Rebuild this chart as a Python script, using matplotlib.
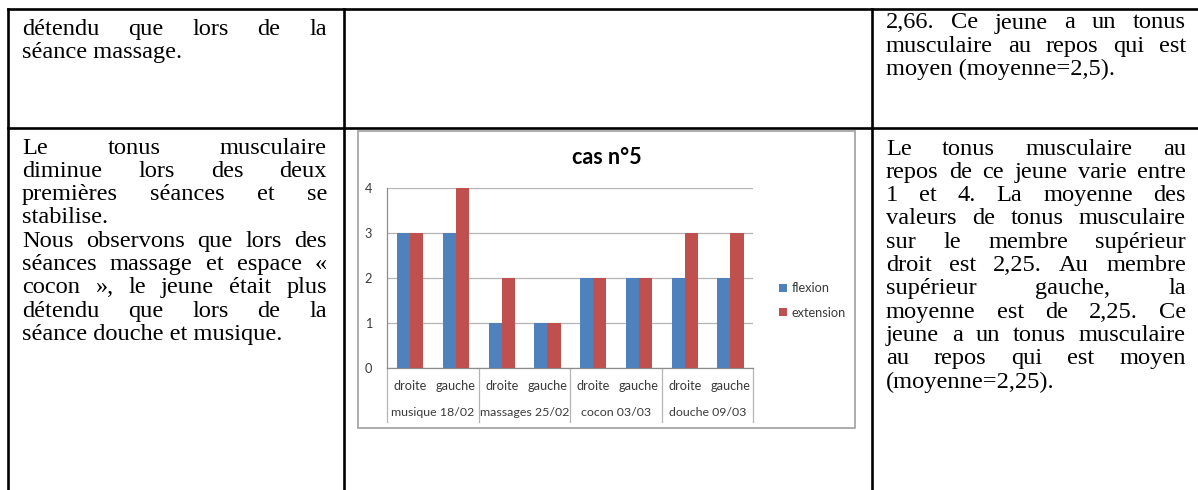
import matplotlib
matplotlib.use("Agg")
import matplotlib.pyplot as plt
import matplotlib.transforms as mtransforms
from matplotlib.font_manager import FontProperties
from matplotlib.patches import Rectangle
from matplotlib.lines import Line2D

# ---- chart data -------------------------------------------------------
sessions = ["musique 18/02", "massages 25/02", "cocon 03/03", "douche 09/03"]
sides = ["droite", "gauche"]
flexion = [3, 3, 1, 1, 2, 2, 2, 2]
extension = [3, 4, 2, 1, 2, 2, 3, 3]
series_names = ["flexion", "extension"]
y_ticks = [0, 1, 2, 3, 4]
chart_title = "cas n°5"

# ---- table text (one list per paragraph, one string per line) -----------
top_left_text = [["détendu que lors de la", "séance massage."]]
top_right_text = [["2,66. Ce jeune a un tonus", "musculaire au repos qui est",
                   "moyen (moyenne=2,5)."]]
mid_left_text = [["Le tonus musculaire", "diminue lors des deux",
                  "premières séances et se", "stabilise."],
                 ["Nous observons que lors des", "séances massage et espace «",
                  "cocon », le jeune était plus", "détendu que lors de la",
                  "séance douche et musique."]]
mid_right_text = [["Le tonus musculaire au", "repos de ce jeune varie entre",
                   "1 et 4. La moyenne des", "valeurs de tonus musculaire",
                   "sur le membre supérieur", "droit est 2,25. Au membre",
                   "supérieur gauche, la", "moyenne est de 2,25. Ce",
                   "jeune a un tonus musculaire", "au repos qui est moyen",
                   "(moyenne=2,25)."]]

W, H, DPI = 1198, 490, 100
BLUE = "#4F81BD"
RED = "#C0504D"
CHART_TEXT = "#3a3a3a"

fig = plt.figure(figsize=(W / DPI, H / DPI), dpi=DPI)
fig.patch.set_facecolor("white")

# page layer in pixel coordinates
page = fig.add_axes([0, 0, 1, 1])
page.set_xlim(0, W)
page.set_ylim(H, 0)
page.axis("off")

renderer = fig.canvas.get_renderer()
body_font = FontProperties(family="Liberation Serif", size=17.6)
LEADING = 23.3


def text_width(s, prop):
    w, _, _ = renderer.get_text_width_height_descent(s, prop, ismath=False)
    return w


def justified_block(paragraphs, x0, x1, y_first):
    y = y_first
    for para in paragraphs:
        for i, line in enumerate(para):
            words = line.split(" ")
            last = (i == len(para) - 1)
            if last or len(words) == 1:
                page.text(x0, y, line, fontproperties=body_font,
                          ha="left", va="baseline", color="black")
            else:
                widths = [text_width(w_, body_font) for w_ in words]
                gap = (x1 - x0 - sum(widths)) / (len(words) - 1)
                x = x0
                for w_, ww in zip(words, widths):
                    page.text(x, y, w_, fontproperties=body_font,
                              ha="left", va="baseline", color="black")
                    x += ww + gap
            y += LEADING


# table rules
lw = 1.9
page.add_line(Line2D([8, W], [9, 9], color="black", lw=lw))
page.add_line(Line2D([8, W], [128, 128], color="black", lw=lw))
for xv in (8, 344, 872):
    page.add_line(Line2D([xv, xv], [9, H], color="black", lw=lw))

# cell contents
justified_block(top_left_text, 22, 327, 35)
justified_block(top_right_text, 886, 1186, 28.5)
justified_block(mid_left_text, 22, 327, 153.5)
justified_block(mid_right_text, 886, 1186, 154.5)

# chart frame
page.add_patch(Rectangle((358, 131), 855 - 358, 428 - 131, facecolor="white",
                         edgecolor="#a6a6a6", lw=1.3, zorder=1))

# chart plot area
px_l, px_r, px_t, px_b = 387.3, 753.3, 188.3, 368.3
ax = fig.add_axes([px_l / W, 1 - px_b / H, (px_r - px_l) / W, (px_b - px_t) / H])
ax.set_zorder(3)
ax.patch.set_alpha(0)

chart_font = "Lato"
cfs = 9.2
n = len(flexion)
xs = list(range(n))
bw = 0.286
ax.bar([x - bw / 2 for x in xs], flexion, width=bw, color=BLUE, label=series_names[0],
       zorder=3)
ax.bar([x + bw / 2 for x in xs], extension, width=bw, color=RED, label=series_names[1],
       zorder=3)
ax.set_xlim(-0.5, n - 0.5)
ax.set_ylim(0, 4)
ax.set_yticks(y_ticks)
ax.set_yticklabels([str(t) for t in y_ticks], fontname=chart_font, fontsize=cfs,
                   color=CHART_TEXT)
ax.tick_params(axis="y", length=0, pad=11)
ax.set_xticks([])
ax.grid(axis="y", color="#b5b5b5", lw=0.9, zorder=0)
ax.set_axisbelow(True)
for side in ("top", "right"):
    ax.spines[side].set_visible(False)
for side in ("left", "bottom"):
    ax.spines[side].set_color("#8c8c8c")
    ax.spines[side].set_linewidth(0.9)

# two-level category axis
trans = mtransforms.blended_transform_factory(ax.transData, ax.transAxes)
ppx = px_b - px_t
y_sub = -(385.7 - px_b) / ppx
y_grp = -(412.5 - px_b) / ppx
y_low = -(421.5 - px_b) / ppx
for i in range(n):
    ax.text(i, y_sub, sides[i % 2], transform=trans, ha="center", va="center",
            fontname=chart_font, fontsize=cfs, color=CHART_TEXT, clip_on=False)
for g, name in enumerate(sessions):
    ax.text(2 * g + 0.5, y_grp, name, transform=trans, ha="center", va="center",
            fontname=chart_font, fontsize=8.9, color=CHART_TEXT, clip_on=False)
for b in range(len(sessions) + 1):
    ax.add_line(Line2D([2 * b - 0.5, 2 * b - 0.5], [0, y_low], transform=trans,
                       color="#b5b5b5", lw=0.9, clip_on=False))

# title
page.text(606.7, 157, chart_title, ha="center", va="center", fontname=chart_font,
          fontweight="bold", fontsize=15.5, color="black", zorder=4)

# legend
leg = ax.legend(loc="center left", bbox_to_anchor=(774 / W, 1 - 300.5 / H),
                bbox_transform=fig.transFigure, frameon=False,
                prop=FontProperties(family=chart_font, size=cfs),
                handlelength=0.6, handleheight=0.6, handletextpad=0.35,
                labelspacing=1.0, borderaxespad=0)
for t in leg.get_texts():
    t.set_color(CHART_TEXT)

fig.savefig("out.png", dpi=DPI, facecolor="white")
